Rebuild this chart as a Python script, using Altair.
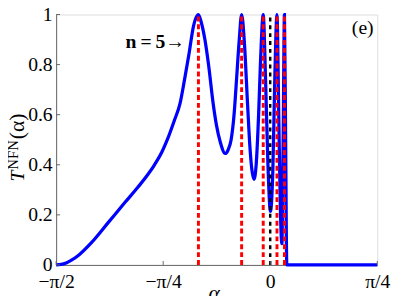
import math
import altair as alt
import pandas as pd

# ---- data ----
alpha = [-1.5708, -1.5333, -1.4973, -1.4613, -1.4036, -1.3100, -1.1875, -1.0650,
         -0.9713, -0.8992, -0.8488, -0.7912, -0.7551, -0.7047, -0.6615, -0.6254,
         -0.5966, -0.5628, -0.5462, -0.5267, -0.5065, -0.4792, -0.4525, -0.4186,
         -0.3949, -0.3660, -0.3300, -0.3084, -0.2868, -0.2652, -0.2508, -0.2270,
         -0.2097, -0.1909, -0.1664, -0.1499, -0.1355, -0.1189, -0.1030, -0.0850,
         -0.0706, -0.0512, -0.0346, -0.0166, 0.0014, 0.0195, 0.0339, 0.0497,
         0.0627, 0.0735, 0.0857, 0.0951, 0.1045, 0.1131, 0.1218, 0.7854]
T_nfn = [0.0, 0.002, 0.008, 0.018, 0.04, 0.09, 0.17, 0.25,
         0.31, 0.36, 0.40, 0.455, 0.50, 0.575, 0.645, 0.75,
         0.84, 0.954, 0.985, 1.0, 0.97, 0.90, 0.80, 0.645,
         0.56, 0.49, 0.445, 0.46, 0.50, 0.60, 0.71, 0.90,
         1.0, 0.90, 0.645, 0.48, 0.385, 0.342, 0.40, 0.60,
         0.82, 1.0, 0.75, 0.40, 0.214, 0.38, 0.75, 1.0,
         0.60, 0.25, 0.085, 0.50, 1.0, 0.50, 0.0, 0.0]

red_lines = [-0.5267, -0.2097, -0.0512, 0.0497, 0.1045]
black_lines = [0.0]

x_ticks = [-math.pi / 2, -math.pi / 4, 0.0, math.pi / 4]
x_tick_labels = ["\u2212\u03c0/2", "\u2212\u03c0/4", "0", "\u03c0/4"]
y_ticks = [0, 0.2, 0.4, 0.6, 0.8, 1]

annot_text = ["n\u2009=\u20095\u2192"]
annot_x = [-0.6254]
annot_y = [0.89]
panel_text = ["(e)"]
panel_x = [0.679]
panel_y = [0.945]

# ---- layout ----
W, H = 327, 255
PAD = {"left": 49, "top": 4, "right": 14, "bottom": 29}
FONT = "Liberation Serif"

curve_df = pd.DataFrame({"a": alpha, "T": T_nfn})
red_df = pd.DataFrame({"a": red_lines})
black_df = pd.DataFrame({"a": black_lines})
xt_df = pd.DataFrame({"t": x_ticks})
yt_df = pd.DataFrame({"t": y_ticks})

label_expr = ""
for v, lab in zip(x_ticks, x_tick_labels):
    label_expr += f"abs(datum.value - ({v:.6f})) < 0.001 ? '{lab}' : "
label_expr += "''"

xscale = alt.Scale(domain=[-math.pi / 2, math.pi / 4], nice=False, zero=False)
yscale = alt.Scale(domain=[0, 1], nice=False)

xaxis = alt.Axis(values=x_ticks, labelExpr=label_expr, title=None, grid=False,
                 ticks=False, domainColor="#666666", labelFont=FONT,
                 labelFontSize=20, labelColor="black", labelPadding=7,
                 labelOverlap=False, labelFlush=False)
yaxis = alt.Axis(values=y_ticks, format="~g", title=None, grid=False,
                 ticks=False, domainColor="#666666", labelFont=FONT,
                 labelFontSize=20, labelColor="black", labelPadding=4,
                 labelOverlap=False, labelFlush=False)

curve = alt.Chart(curve_df).mark_line(color="#0000ff", strokeWidth=3.3,
                                      interpolate="monotone").encode(
    x=alt.X("a:Q", scale=xscale, axis=xaxis),
    y=alt.Y("T:Q", scale=yscale, axis=yaxis),
)

red = alt.Chart(red_df).mark_rule(color="#ff0000", strokeWidth=3,
                                  strokeDash=[5, 3]).encode(
    x=alt.X("a:Q", scale=xscale), y=alt.datum(0), y2=alt.datum(1))

black = alt.Chart(black_df).mark_rule(color="black", strokeWidth=2.5,
                                      strokeDash=[4, 4]).encode(
    x=alt.X("a:Q", scale=xscale), y=alt.datum(0), y2=alt.datum(1))

xticks = alt.Chart(xt_df).mark_rule(color="#666666", strokeWidth=1).encode(
    x=alt.X("t:Q", scale=xscale), y=alt.value(H), y2=alt.value(H - 4))
yticks = alt.Chart(yt_df).mark_rule(color="#666666", strokeWidth=1).encode(
    y=alt.Y("t:Q", scale=yscale), x=alt.value(0), x2=alt.value(4))

annot = alt.Chart(pd.DataFrame({"x": annot_x, "y": annot_y, "t": annot_text})).mark_text(
    font=FONT, fontSize=20, fontWeight="bold", align="right", baseline="middle",
    color="black").encode(x=alt.X("x:Q", scale=xscale), y=alt.Y("y:Q", scale=yscale), text="t:N")

panel = alt.Chart(pd.DataFrame({"x": panel_x, "y": panel_y, "t": panel_text})).mark_text(
    font=FONT, fontSize=20, align="center", baseline="middle",
    color="black").encode(x=alt.X("x:Q", scale=xscale), y=alt.Y("y:Q", scale=yscale), text="t:N")

ylab_T = alt.Chart().mark_text(text="T", font=FONT, fontSize=20, fontStyle="italic",
                               angle=270, align="left", baseline="alphabetic",
                               color="black").encode(x=alt.value(-33), y=alt.value(170))
ylab_sup = alt.Chart().mark_text(text="NFN", font=FONT, fontSize=15,
                                 angle=270, align="left", baseline="alphabetic",
                                 color="black").encode(x=alt.value(-39), y=alt.value(158))
ylab_a = alt.Chart().mark_text(text="(\u03b1)", font=FONT, fontSize=22,
                               angle=270, align="left", baseline="alphabetic",
                               color="black").encode(x=alt.value(-33), y=alt.value(127))
xlab = alt.Chart().mark_text(text="\u03b1", font=FONT, fontSize=22, fontStyle="italic",
                             align="center", baseline="alphabetic",
                             color="black").encode(x=alt.value(161), y=alt.value(H + 36))

chart = alt.layer(curve, red, black, xticks, yticks, annot, panel,
                  ylab_T, ylab_sup, ylab_a, xlab).properties(
    width=W, height=H,
    autosize=alt.AutoSizeParams(type="none"),
    padding=PAD,
).configure_view(stroke=None).configure(background="white")

chart.save("out.html", embed_options={"renderer": "svg", "actions": False})
